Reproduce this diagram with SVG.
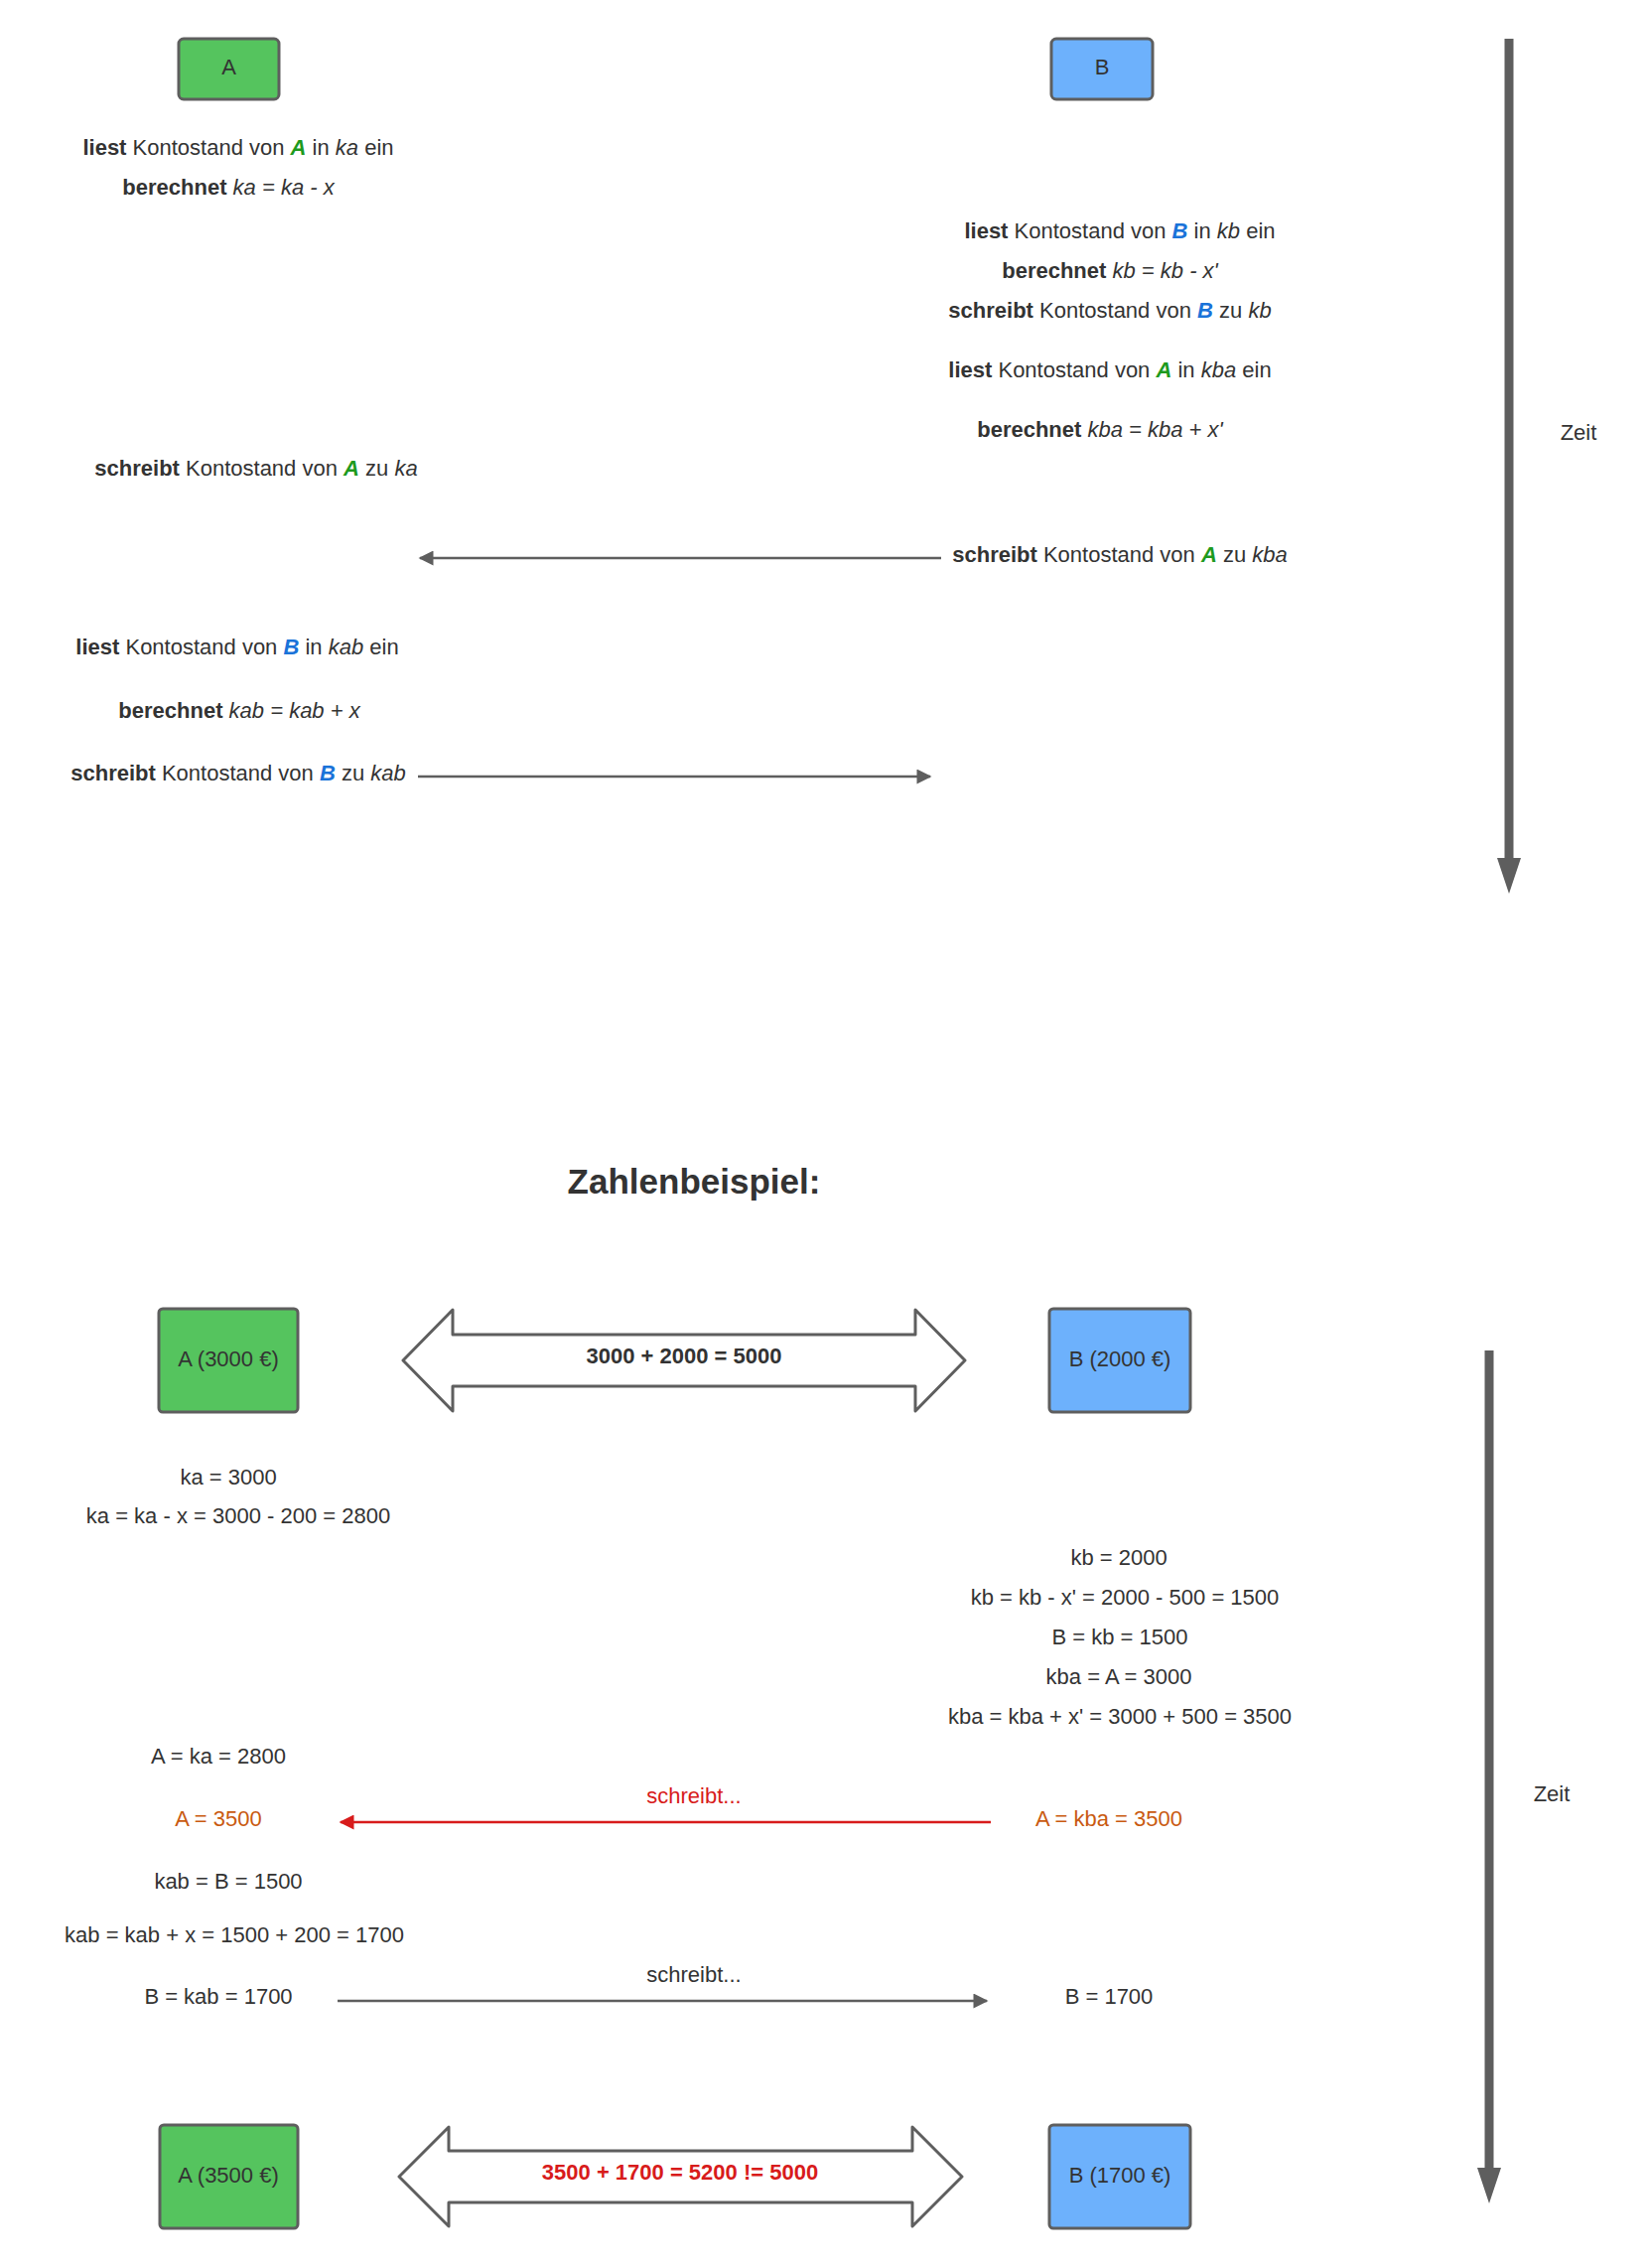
<svg xmlns="http://www.w3.org/2000/svg" width="1660" height="2284" viewBox="0 0 1660 2284">
  <defs>
    <style>
      .t { font-family: "Liberation Sans", Arial, sans-serif; font-size: 22px; fill: #333333; text-anchor: middle; }
      .b { font-weight: bold; }
      .i { font-style: italic; }
      .ga { font-weight: bold; font-style: italic; fill: #1e9a1e; }
      .bb { font-weight: bold; font-style: italic; fill: #1a73d9; }
      .or { fill: #c95a10; }
      .rd { fill: #d81b1b; }
      .title { font-family: "Liberation Sans", Arial, sans-serif; font-size: 35px; font-weight: bold; fill: #333333; text-anchor: middle; }
      .boxA { fill: #55c45e; stroke: #5e5e5e; stroke-width: 3; }
      .boxB { fill: #6db1fc; stroke: #5e5e5e; stroke-width: 3; }
      .dbl { fill: #ffffff; stroke: #5e5e5e; stroke-width: 3; stroke-linejoin: round; }
      .conn { fill: none; stroke: #5e5e5e; stroke-width: 2.5; }
      .connRed { fill: none; stroke: #d81b1b; stroke-width: 2.5; }
      .time { fill: #5e5e5e; }
    </style>
    <marker id="ah" viewBox="0 0 10 10" refX="9" refY="5" markerWidth="7" markerHeight="6" markerUnits="strokeWidth" orient="auto">
      <path d="M0,0 L10,5 L0,10 Z" fill="#5e5e5e"/>
    </marker>
    <marker id="ahRed" viewBox="0 0 10 10" refX="9" refY="5" markerWidth="7" markerHeight="6" markerUnits="strokeWidth" orient="auto">
      <path d="M0,0 L10,5 L0,10 Z" fill="#d81b1b"/>
    </marker>
  </defs>

  <rect width="1660" height="2284" fill="#ffffff"/>

  <!-- ===== Ablauf (oben) ===== -->
  <g id="nodeA">
    <rect class="boxA" x="180" y="39" width="101" height="61" rx="5"/>
    <text class="t" x="230.5" y="75">A</text>
  </g>
  <g id="nodeB">
    <rect class="boxB" x="1059" y="39" width="102" height="61" rx="5"/>
    <text class="t" x="1110" y="75">B</text>
  </g>

  <g id="stepsA1">
    <text class="t" x="240" y="156"><tspan class="b">liest</tspan> Kontostand von <tspan class="ga">A</tspan> in <tspan class="i">ka</tspan> ein</text>
    <text class="t" x="230" y="196"><tspan class="b">berechnet</tspan> <tspan class="i">ka = ka - x</tspan></text>
    <text class="t" x="258" y="479"><tspan class="b">schreibt</tspan> Kontostand von <tspan class="ga">A</tspan> zu <tspan class="i">ka</tspan></text>
  </g>

  <g id="stepsB">
    <text class="t" x="1128" y="240"><tspan class="b">liest</tspan> Kontostand von <tspan class="bb">B</tspan> in <tspan class="i">kb</tspan> ein</text>
    <text class="t" x="1118" y="280"><tspan class="b">berechnet</tspan> <tspan class="i">kb = kb - x'</tspan></text>
    <text class="t" x="1118" y="320"><tspan class="b">schreibt</tspan> Kontostand von <tspan class="bb">B</tspan> zu <tspan class="i">kb</tspan></text>
    <text class="t" x="1118" y="380"><tspan class="b">liest</tspan> Kontostand von <tspan class="ga">A</tspan> in <tspan class="i">kba</tspan> ein</text>
    <text class="t" x="1108" y="440"><tspan class="b">berechnet</tspan> <tspan class="i">kba = kba + x'</tspan></text>
    <text class="t" x="1128" y="566"><tspan class="b">schreibt</tspan> Kontostand von <tspan class="ga">A</tspan> zu <tspan class="i">kba</tspan></text>
  </g>

  <g id="stepsA2">
    <text class="t" x="239" y="659"><tspan class="b">liest</tspan> Kontostand von <tspan class="bb">B</tspan> in <tspan class="i">kab</tspan> ein</text>
    <text class="t" x="241" y="723"><tspan class="b">berechnet</tspan> <tspan class="i">kab = kab + x</tspan></text>
    <text class="t" x="240" y="786"><tspan class="b">schreibt</tspan> Kontostand von <tspan class="bb">B</tspan> zu <tspan class="i">kab</tspan></text>
  </g>

  <g id="timeTop">
    <rect class="time" x="1515.5" y="39" width="9" height="830"/>
    <path class="time" d="M1508,864 L1532,864 L1520,900 Z"/>
    <text class="t" x="1590" y="443">Zeit</text>
  </g>

  <!-- ===== Zahlenbeispiel (unten) ===== -->
  <g id="title">
    <text class="title" x="699" y="1202">Zahlenbeispiel:</text>
  </g>

  <g id="nodeA3000">
    <rect class="boxA" x="160" y="1318" width="140" height="104" rx="4"/>
    <text class="t" x="230" y="1376">A (3000 €)</text>
  </g>
  <g id="sum1">
    <path class="dbl" d="M406,1370 L456,1319 L456,1344 L922,1344 L922,1319 L972,1370 L922,1421 L922,1396 L456,1396 L456,1421 Z"/>
    <text class="t b" x="689" y="1373">3000 + 2000 = 5000</text>
  </g>
  <g id="nodeB2000">
    <rect class="boxB" x="1057" y="1318" width="142" height="104" rx="4"/>
    <text class="t" x="1128" y="1376">B (2000 €)</text>
  </g>

  <g id="calcA1">
    <text class="t" x="230" y="1495">ka = 3000</text>
    <text class="t" x="240" y="1534">ka = ka - x = 3000 - 200 = 2800</text>
  </g>
  <g id="calcB">
    <text class="t" x="1127" y="1576">kb = 2000</text>
    <text class="t" x="1133" y="1616">kb = kb - x' = 2000 - 500 = 1500</text>
    <text class="t" x="1128" y="1656">B = kb = 1500</text>
    <text class="t" x="1127" y="1696">kba = A = 3000</text>
    <text class="t" x="1128" y="1736">kba = kba + x' = 3000 + 500 = 3500</text>
  </g>
  <g id="calcA2">
    <text class="t" x="220" y="1776">A = ka = 2800</text>
    <text class="t or" x="220" y="1839">A = 3500</text>
    <text class="t" x="230" y="1902">kab = B = 1500</text>
    <text class="t" x="236" y="1956">kab = kab + x = 1500 + 200 = 1700</text>
    <text class="t" x="220" y="2018">B = kab = 1700</text>
  </g>
  <g id="writesB">
    <text class="t or" x="1117" y="1839">A = kba = 3500</text>
    <text class="t" x="1117" y="2018">B = 1700</text>
  </g>

  <g id="timeBottom">
    <rect class="time" x="1495.5" y="1360" width="9" height="828"/>
    <path class="time" d="M1488,2183 L1512,2183 L1500,2219 Z"/>
    <text class="t" x="1563" y="1814">Zeit</text>
  </g>

  <g id="nodeA3500">
    <rect class="boxA" x="161" y="2140" width="139" height="104" rx="4"/>
    <text class="t" x="230" y="2198">A (3500 €)</text>
  </g>
  <g id="sum2">
    <path class="dbl" d="M402,2192 L452,2142 L452,2166 L919,2166 L919,2142 L969,2192 L919,2242 L919,2218 L452,2218 L452,2242 Z"/>
    <text class="t b rd" x="685" y="2195">3500 + 1700 = 5200 != 5000</text>
  </g>
  <g id="nodeB1700">
    <rect class="boxB" x="1057" y="2140" width="142" height="104" rx="4"/>
    <text class="t" x="1128" y="2198">B (1700 €)</text>
  </g>

  <!-- Verbindungen -->
  <g id="connectors">
    <line class="conn" x1="948" y1="562" x2="423" y2="562" marker-end="url(#ah)"/>
    <line class="conn" x1="421" y1="782" x2="937" y2="782" marker-end="url(#ah)"/>
    <line class="connRed" x1="998" y1="1835" x2="343" y2="1835" marker-end="url(#ahRed)"/>
    <text class="t rd" x="699" y="1816">schreibt...</text>
    <line class="conn" x1="340" y1="2015" x2="994" y2="2015" marker-end="url(#ah)"/>
    <text class="t" x="699" y="1996">schreibt...</text>
  </g>
</svg>
